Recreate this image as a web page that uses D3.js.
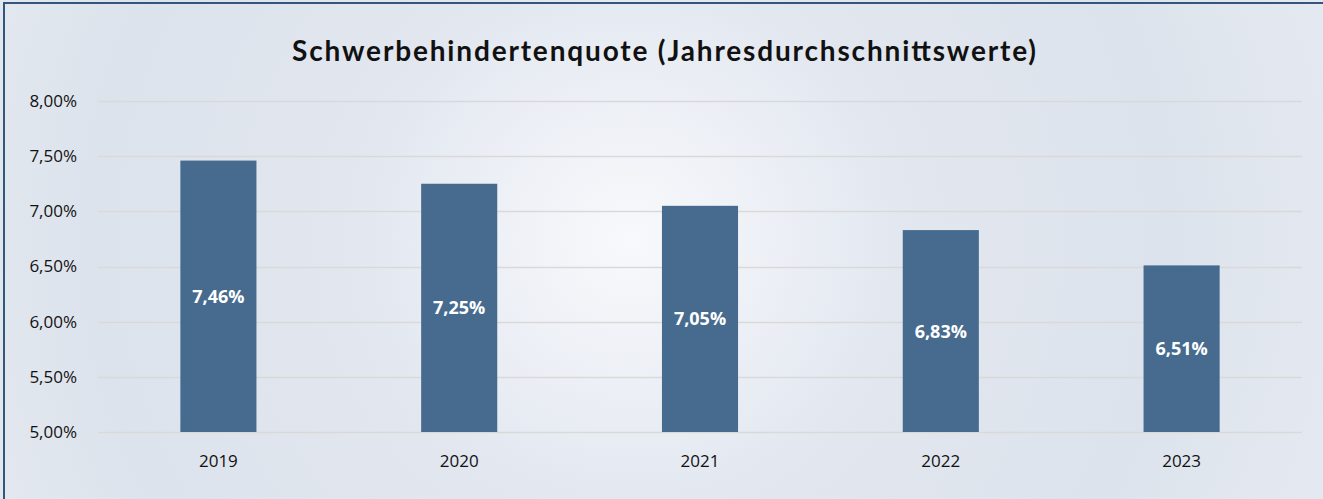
<!DOCTYPE html>
<html lang="de">
<head>
<meta charset="utf-8">
<title>Schwerbehindertenquote</title>
<script src="https://cdn.jsdelivr.net/npm/d3@7"></script>
<style>
  html, body { margin: 0; padding: 0; background: #fff; }
  svg { display: block; }
  .tick text { font-family: "Open Sans", "Noto Sans", sans-serif; font-size: 17px; fill: #111; }
</style>
</head>
<body>
<div id="chart"></div>
<script>
// Jahresdurchschnittswerte
var years = ["2019", "2020", "2021", "2022", "2023"];
var quote = [7.46, 7.25, 7.05, 6.83, 6.51];
var yTicks = [5.0, 5.5, 6.0, 6.5, 7.0, 7.5, 8.0];

var width = 1323, height = 499;
var margin = {top: 101, right: 21, bottom: 67, left: 98};

var svg = d3.select("#chart").append("svg")
  .attr("width", width)
  .attr("height", height);

var defs = svg.append("defs");
var grad = defs.append("radialGradient")
  .attr("id", "bg")
  .attr("gradientUnits", "userSpaceOnUse")
  .attr("cx", 630).attr("cy", 240).attr("r", 720);
grad.append("stop").attr("offset", "0%").attr("stop-color", "#f8f9fc");
grad.append("stop").attr("offset", "40%").attr("stop-color", "#e1e6ef");
grad.append("stop").attr("offset", "75%").attr("stop-color", "#dde3ec");
grad.append("stop").attr("offset", "100%").attr("stop-color", "#e4e9f1");

svg.append("rect")
  .attr("x", 0).attr("y", 0)
  .attr("width", width).attr("height", height)
  .attr("fill", "url(#bg)");

// frame (right and bottom edges lie outside the picture)
svg.append("rect")
  .attr("x", 4).attr("y", 3)
  .attr("width", width + 10).attr("height", height + 10)
  .attr("fill", "none")
  .attr("stroke", "#34557c")
  .attr("stroke-width", 2);

var x = d3.scaleBand()
  .domain(years)
  .range([margin.left, width - margin.right])
  .paddingInner(0.684)
  .paddingOuter(0.342);

var y = d3.scaleLinear()
  .domain([5, 8])
  .range([height - margin.bottom, margin.top]);

var fmt = function(v) { return d3.format(".2f")(v).replace(".", ",") + "%"; };

// gridlines
svg.append("g")
  .selectAll("line")
  .data(yTicks)
  .enter().append("line")
  .attr("x1", margin.left)
  .attr("x2", width - margin.right)
  .attr("y1", function(d) { return Math.round(y(d)) + 0.5; })
  .attr("y2", function(d) { return Math.round(y(d)) + 0.5; })
  .attr("stroke", "#d9d9d9")
  .attr("stroke-width", 1.5);

// y axis labels
var yAxis = svg.append("g")
  .attr("transform", "translate(" + (margin.left - 21) + ",0)")
  .call(d3.axisLeft(y).tickValues(yTicks).tickFormat(fmt).tickSize(0).tickPadding(0));
yAxis.select(".domain").remove();

// x axis labels
var xAxis = svg.append("g")
  .attr("transform", "translate(0," + (height - margin.bottom + 23) + ")")
  .call(d3.axisBottom(x).tickSize(0).tickPadding(0));
xAxis.select(".domain").remove();
xAxis.selectAll("text").attr("dy", "0.71em");

// bars
svg.append("g")
  .selectAll("rect")
  .data(quote)
  .enter().append("rect")
  .attr("x", function(d, i) { return x(years[i]); })
  .attr("y", function(d) { return y(d); })
  .attr("width", x.bandwidth())
  .attr("height", function(d) { return y(5) - y(d); })
  .attr("fill", "#466b8f");

// value labels
svg.append("g")
  .selectAll("text")
  .data(quote)
  .enter().append("text")
  .attr("x", function(d, i) { return x(years[i]) + x.bandwidth() / 2; })
  .attr("y", function(d) { return (y(d) + y(5)) / 2; })
  .attr("dy", "0.36em")
  .attr("text-anchor", "middle")
  .attr("fill", "#ffffff")
  .style("font-family", "'Open Sans', 'Noto Sans', sans-serif")
  .style("font-weight", "bold")
  .style("font-size", "18px")
  .text(fmt);

// title
svg.append("text")
  .attr("x", 664)
  .attr("y", 51)
  .attr("dy", "0.35em")
  .attr("text-anchor", "middle")
  .attr("fill", "#111")
  .attr("textLength", 744)
  .attr("lengthAdjust", "spacing")
  .style("font-family", "Lato, 'Noto Sans', sans-serif")
  .style("font-weight", "bold")
  .style("font-size", "28px")
  .text("Schwerbehindertenquote (Jahresdurchschnittswerte)");
</script>
</body>
</html>
